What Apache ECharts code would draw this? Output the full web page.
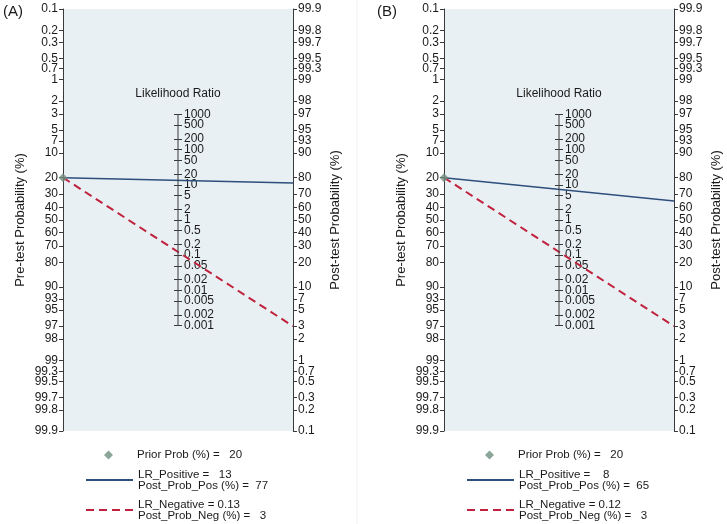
<!DOCTYPE html>
<html><head><meta charset="utf-8">
<script src="https://cdn.jsdelivr.net/npm/echarts@6/dist/echarts.min.js"></script>
<style>html,body{margin:0;padding:0;background:#fff}#c{width:727px;height:524px}</style>
</head><body><div id="c"></div>
<script>
// ---- data ----
const panelLabels = ['(A)', '(B)'];
const priorProb = [20, 20];
const lrPositive = [13, 8];
const postProbPos = [77, 65];
const lrNegative = [0.13, 0.12];
const postProbNeg = [3, 3];
const probTicks = [0.1, 0.2, 0.3, 0.5, 0.7, 1, 2, 3, 5, 7, 10, 20, 30, 40, 50, 60, 70, 80, 90, 93, 95, 97, 98, 99, 99.3, 99.5, 99.7, 99.8, 99.9];
const lrTicks = [0.001, 0.002, 0.005, 0.01, 0.02, 0.05, 0.1, 0.2, 0.5, 1, 2, 5, 10, 20, 50, 100, 200, 500, 1000];

// ---- scales ----
const logit = p => Math.log(p / (100 - p));
const lrPos = v => Math.log(v) / 2;
const L = logit(probTicks[probTicks.length - 1]);
const LRmax = lrPos(lrTicks[lrTicks.length - 1]);
const EPS = 1.0002;
const probVals = probTicks.map(logit);
const lrVals = lrTicks.map(lrPos);
const lrValsEven = lrVals.filter((v, k) => k % 2 === 0);
const lrValsOdd = lrVals.filter((v, k) => k % 2 === 1);
const nearestLabel = (vals, ticks) => v => {
  let bi = 0, bd = Infinity;
  vals.forEach((x, i) => { const d = Math.abs(x - v); if (d < bd) { bd = d; bi = i; } });
  return String(ticks[bi]);
};

// ---- layout / style ----
const FONT = '"Liberation Sans", Arial, sans-serif';
const TXT = '#1a1a1a';
const AX = '#3a3a3a';
const BLUE = '#2c4f7c';
const RED = '#c0223e';
const DIAM = '#6f8f80';
const panelX = [63, 444];
const GT = 9, GH = 422, GW = 230;
const LRX = 1.01;
const lrH = GH * LRmax * LRX / (L * EPS);
const lrTop = GT + GH / 2 - lrH / 2;

const grid = [], xAxis = [], yAxis = [], series = [], legend = [], title = [];

panelX.forEach((px, i) => {
  const g = grid.length;
  grid.push({ left: px, top: GT, width: GW, height: GH, show: true, backgroundColor: '#e9f0f3', borderWidth: 0, outerBoundsMode: 'none', containLabel: false });
  const xi = xAxis.length;
  xAxis.push({ gridIndex: g, type: 'value', min: 0, max: 1, show: false });
  const yPre = yAxis.length;
  yAxis.push({
    gridIndex: g, type: 'value', position: 'left', min: -L * EPS, max: L * EPS, inverse: true,
    splitLine: { show: false },
    axisLine: { show: true, lineStyle: { color: AX, width: 1 } },
    axisTick: { show: true, length: 4, customValues: probVals, lineStyle: { color: AX } },
    axisLabel: { customValues: probVals, formatter: nearestLabel(probVals, probTicks), margin: 5, color: TXT, fontSize: 12, fontFamily: FONT },
    name: 'Pre-test Probability (%)', nameLocation: 'middle', nameRotate: 90, nameGap: 36,
    nameTextStyle: { color: TXT, fontSize: 13, fontFamily: FONT }
  });
  const yPost = yAxis.length;
  yAxis.push({
    gridIndex: g, type: 'value', position: 'right', min: -L * EPS, max: L * EPS,
    splitLine: { show: false },
    axisLine: { show: true, lineStyle: { color: AX, width: 1 } },
    axisTick: { show: true, length: 4, customValues: probVals, lineStyle: { color: AX } },
    axisLabel: { customValues: probVals, formatter: nearestLabel(probVals, probTicks), margin: 5, color: TXT, fontSize: 12, fontFamily: FONT },
    name: 'Post-test Probability (%)', nameLocation: 'middle', nameRotate: 90, nameGap: 36,
    nameTextStyle: { color: TXT, fontSize: 13, fontFamily: FONT }
  });

  // likelihood ratio axis
  const g2 = grid.length;
  grid.push({ left: px + GW / 2, top: lrTop, width: 10, height: lrH, show: false, outerBoundsMode: 'none', containLabel: false });
  xAxis.push({ gridIndex: g2, type: 'value', min: 0, max: 1, show: false });
  const lrAxisBase = {
    gridIndex: g2, type: 'value', position: 'left', offset: 0,
    min: -LRmax * LRX, max: LRmax * LRX,
    splitLine: { show: false }, axisLine: { show: false }
  };
  const lrLabel = vals => ({ inside: true, customValues: vals, formatter: nearestLabel(lrVals, lrTicks), margin: 6,
    color: TXT, fontSize: 12, fontFamily: FONT });
  yAxis.push(Object.assign({}, lrAxisBase, {
    axisTick: { show: true, length: 4, customValues: lrVals, lineStyle: { color: AX } },
    axisLabel: { show: false },
    name: 'Likelihood Ratio', nameLocation: 'end', nameGap: 14,
    nameTextStyle: { color: TXT, fontSize: 12, fontFamily: FONT, align: 'center' }
  }));
  yAxis.push(Object.assign({}, lrAxisBase, {
    axisTick: { show: true, inside: true, length: 4, customValues: lrVals, lineStyle: { color: AX } },
    axisLabel: { show: false }
  }));
  yAxis.push(Object.assign({}, lrAxisBase, { axisTick: { show: false }, axisLabel: lrLabel(lrValsEven) }));
  yAxis.push(Object.assign({}, lrAxisBase, { axisTick: { show: false }, axisLabel: lrLabel(lrValsOdd) }));
  const yLR = yAxis.length - 1;
  series.push({
    name: 'lrAxis' + i, type: 'line', xAxisIndex: xAxis.length - 1, yAxisIndex: yLR, symbol: 'none', silent: true,
    lineStyle: { color: AX, width: 1 }, z: 4,
    data: [[0, lrVals[0]], [0, lrVals[lrVals.length - 1]]]
  });

  const sfx = i === 0 ? 'A' : 'B';
  series.push({
    name: 'pos' + sfx, type: 'line', xAxisIndex: xi, yAxisIndex: yPost, symbol: 'none', silent: true,
    lineStyle: { color: BLUE, width: 1.5 }, itemStyle: { color: BLUE }, z: 3,
    data: [[0, -logit(priorProb[i])], [1, logit(postProbPos[i])]]
  });
  series.push({
    name: 'neg' + sfx, type: 'line', xAxisIndex: xi, yAxisIndex: yPost, symbol: 'none', silent: true,
    lineStyle: { color: RED, width: 2, type: [8, 5] }, itemStyle: { color: RED }, z: 3,
    data: [[0, -logit(priorProb[i])], [1, logit(postProbNeg[i])]]
  });
  series.push({
    name: 'prior' + sfx, type: 'scatter', xAxisIndex: xi, yAxisIndex: yPre, symbol: 'diamond', symbolSize: 9,
    itemStyle: { color: DIAM }, z: 5, silent: true,
    data: [[0, logit(priorProb[i])]]
  });

  const texts = {
    ['prior' + sfx]: 'Prior Prob (%) =   ' + priorProb[i],
    ['pos' + sfx]: 'LR_Positive =   ' + (String(lrPositive[i]).length < 2 ? ' ' : '') + lrPositive[i] + '\nPost_Prob_Pos (%) =  ' + postProbPos[i],
    ['neg' + sfx]: 'LR_Negative = ' + lrNegative[i] + '\nPost_Prob_Neg (%) =   ' + postProbNeg[i]
  };
  const base = {
    orient: 'vertical', left: px + 22, padding: 0, itemGap: 7,
    itemWidth: 47, itemHeight: 8, selectedMode: false, symbolKeepAspect: true,
    formatter: n => texts[n],
    textStyle: { color: TXT, fontSize: 11.5, lineHeight: 11, fontFamily: FONT }
  };
  legend.push(Object.assign({}, base, { top: 449, left: px + 22 + 19, itemHeight: 9,
    data: [{ name: 'prior' + sfx, icon: 'path://M5,0L10,5L5,10L0,5Z' }] }));
  legend.push(Object.assign({}, base, { top: 468.5,
    data: [{ name: 'pos' + sfx, itemStyle: { opacity: 0 } }] }));
  legend.push(Object.assign({}, base, { top: 498.5,
    data: [{ name: 'neg' + sfx, itemStyle: { opacity: 0 } }] }));
  title.push({ text: panelLabels[i], left: i === 0 ? 3 : 377, top: 4, padding: 0,
    textStyle: { color: TXT, fontSize: 15, fontWeight: 'normal', fontFamily: FONT } });
});

const chart = echarts.init(document.getElementById('c'), null, { renderer: 'canvas' });
chart.setOption({
  animation: false,
  backgroundColor: '#ffffff',
  title, grid, xAxis, yAxis, series, legend,
  graphic: [{ type: 'line', shape: { x1: 357, y1: 0, x2: 357, y2: 524 }, style: { stroke: '#f1f1f1', lineWidth: 1 }, silent: true }]
});
</script></body></html>
